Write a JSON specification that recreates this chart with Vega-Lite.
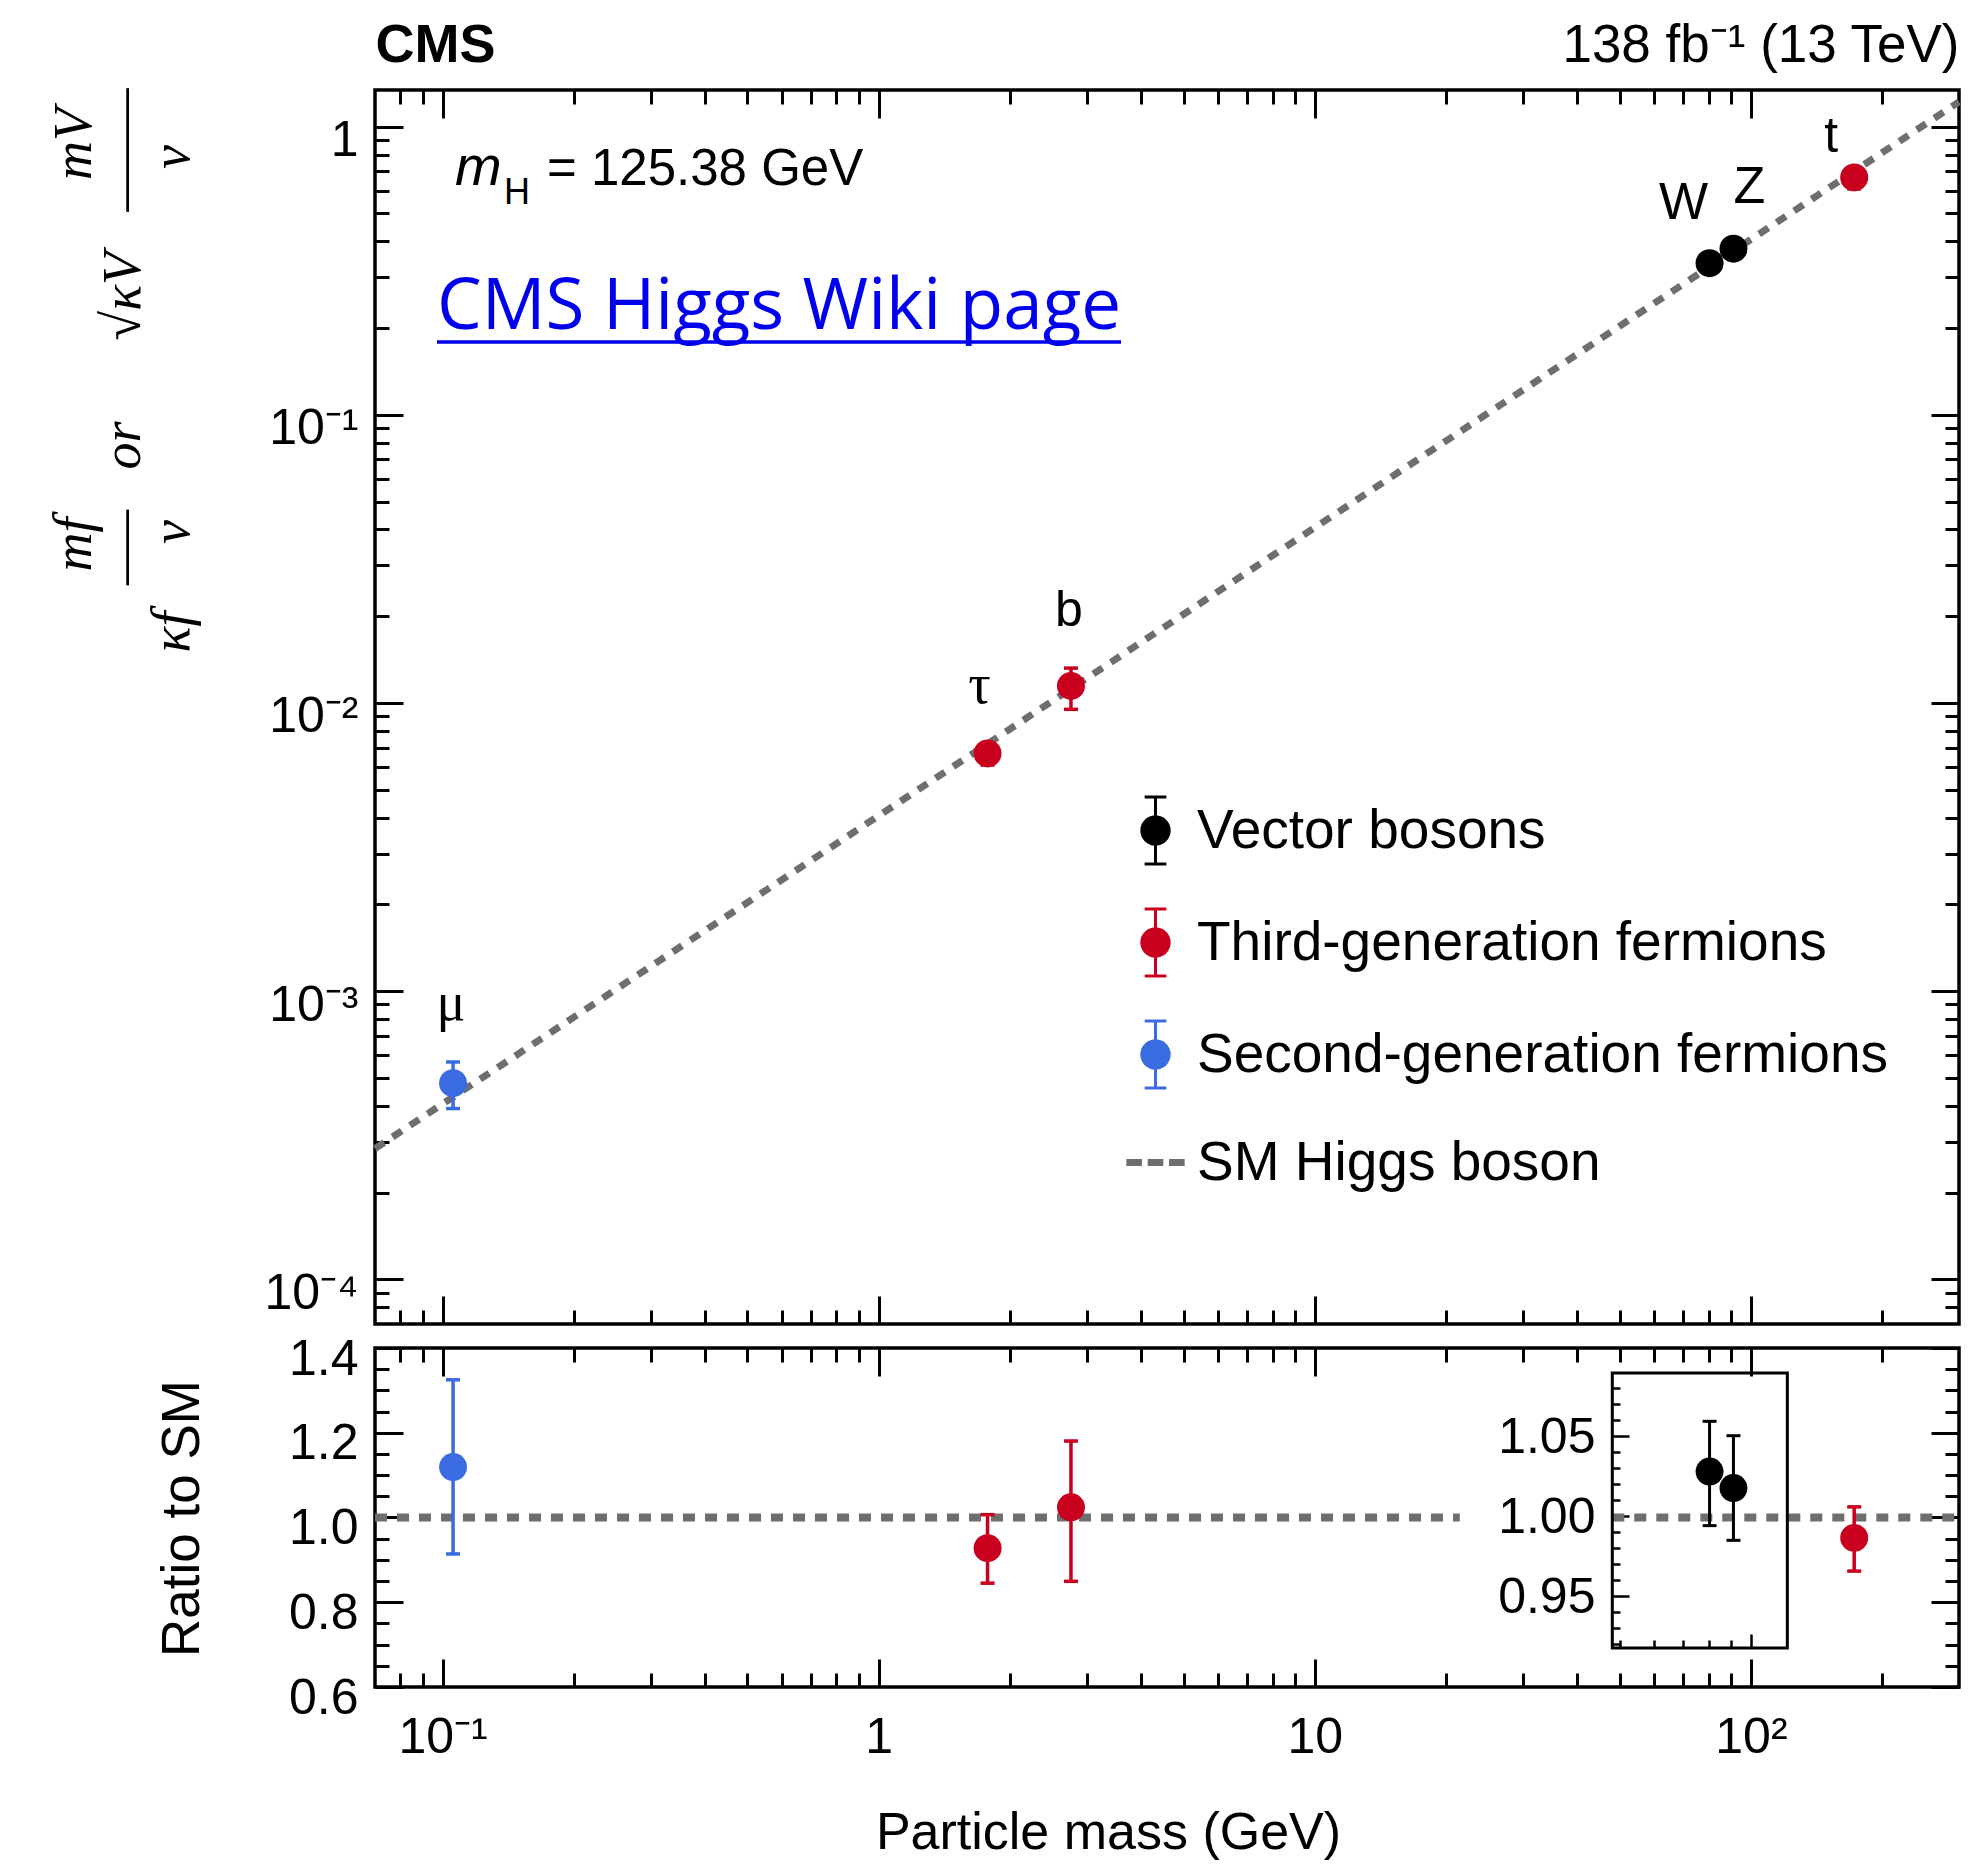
{
  "$schema": "https://vega.github.io/schema/vega-lite/v6.json",
  "background": "white",
  "padding": {"left": 45, "top": 16, "right": 10, "bottom": 10},
  "config": {
    "font": "Liberation Sans",
    "view": {"stroke": "black", "strokeWidth": 3.5},
    "axis": {"grid": false, "domain": false, "tickColor": "black", "tickWidth": 3, "labelColor": "black", "titleColor": "black", "labelFont": "Liberation Sans", "titleFont": "Liberation Sans", "labelFontSize": 50, "labelOverlap": false, "labelFlush": false, "titleFontWeight": "normal"}
  },
  "datasets": {
    "particles": [
      {"name": "mu", "label": "μ", "group": "Second-generation fermions", "mass": 0.1057, "y": 0.0004795, "ylo": 0.0003915, "yhi": 0.000568, "r": 1.119, "rlo": 0.914, "rhi": 1.325},
      {"name": "tau", "label": "τ", "group": "Third-generation fermions", "mass": 1.777, "y": 0.006683, "ylo": 0.006091, "yhi": 0.007253, "r": 0.9275, "rlo": 0.845, "rhi": 1.0067},
      {"name": "b", "label": "b", "group": "Third-generation fermions", "mass": 2.76, "y": 0.011457, "ylo": 0.009506, "yhi": 0.013216, "r": 1.024, "rlo": 0.8494, "rhi": 1.1805},
      {"name": "W", "label": "W", "group": "Vector bosons", "mass": 80.38, "y": 0.3359, "ylo": 0.3242, "yhi": 0.346, "r": 1.028, "rlo": 0.9942, "rhi": 1.0594},
      {"name": "Z", "label": "Z", "group": "Vector bosons", "mass": 91.19, "y": 0.377, "ylo": 0.3648, "yhi": 0.3896, "r": 1.0177, "rlo": 0.985, "rhi": 1.0504},
      {"name": "t", "label": "t", "group": "Third-generation fermions", "mass": 172.5, "y": 0.6663, "ylo": 0.6081, "yhi": 0.7167, "r": 0.952, "rlo": 0.8735, "rhi": 1.0251}
    ],
    "sm": [
      {"mass": 0.07, "y": 0.0002843, "group": "SM Higgs boson"},
      {"mass": 300, "y": 1.2184, "group": "SM Higgs boson"}
    ],
    "refline": [
      {"lo": 0.07, "hi": 21.5, "ratio": 1},
      {"lo": 48.1, "hi": 300, "ratio": 1}
    ]
  },
  "spacing": 24,
  "bounds": "flush",
  "resolve": {"scale": {"color": "independent"}},
  "vconcat": [
    {
      "width": 1584,
      "height": 1234,
      "resolve": {"axis": {"x": "independent", "y": "independent"}},
      "layer": [
        {
          "data": {"name": "sm"},
          "mark": {"type": "line", "strokeDash": [11, 10], "strokeWidth": 7},
          "encoding": {
            "x": {"field": "mass", "type": "quantitative", "scale": {"type": "log", "domain": [0.07, 300], "nice": false},
              "axis": {"orient": "bottom", "values": [0.08,0.09,0.1,0.2,0.3,0.4,0.5,0.6,0.7,0.8,0.9,1,2,3,4,5,6,7,8,9,10,20,30,40,50,60,70,80,90,100,200], "labels": false, "title": null,
                "tickSize": {"condition": {"test": "datum.value == 0.1 || datum.value == 1 || datum.value == 10 || datum.value == 100", "value": -28}, "value": -14}}},
            "y": {"field": "y", "type": "quantitative", "scale": {"type": "log", "domain": [0.00007, 1.34], "nice": false},
              "axis": {"orient": "left", "values": [0.00008,0.00009,0.0001,0.0002,0.0003,0.0004,0.0005,0.0006,0.0007,0.0008,0.0009,0.001,0.002,0.003,0.004,0.005,0.006,0.007,0.008,0.009,0.01,0.02,0.03,0.04,0.05,0.06,0.07,0.08,0.09,0.1,0.2,0.3,0.4,0.5,0.6,0.7,0.8,0.9,1],
                "tickSize": {"condition": {"test": "datum.value == 0.0001 || datum.value == 0.001 || datum.value == 0.01 || datum.value == 0.1 || datum.value == 1", "value": -28}, "value": -14},
                "labelExpr": "datum.value == 1 ? '1' : datum.value == 0.1 ? '10⁻¹' : datum.value == 0.01 ? '10⁻²' : datum.value == 0.001 ? '10⁻³' : datum.value == 0.0001 ? '10⁻⁴' : ''",
                "labelPadding": 45, "labelBaseline": "alphabetic", "labelOffset": 29, "labelFontSize": 50,
                "title": [
                  "\u200b\u00a0\u00a0\u00a0\u00a0\u00a0\u00a0mf\u00a0\u00a0\u00a0\u00a0\u00a0\u00a0\u00a0\u00a0\u00a0\u00a0\u00a0\u00a0\u00a0\u00a0\u00a0\u00a0\u00a0\u00a0\u00a0\u00a0\u00a0\u00a0\u00a0\u00a0\u00a0mV",
                  "\u200b\u00a0\u00a0\u00a0\u00a0\u00a0—–\u00a0\u00a0\u00a0or\u00a0\u00a0\u00a0\u00a0\u00a0\u00a0√κV\u00a0\u00a0\u00a0——–",
                  "κf\u00a0\u00a0\u00a0\u00a0\u00a0v\u00a0\u00a0\u00a0\u00a0\u00a0\u00a0\u00a0\u00a0\u00a0\u00a0\u00a0\u00a0\u00a0\u00a0\u00a0\u00a0\u00a0\u00a0\u00a0\u00a0\u00a0\u00a0\u00a0\u00a0\u00a0\u00a0v"
                ],
                "titleFont": "Liberation Serif", "titleFontStyle": "italic", "titleFontSize": 54, "titleLineHeight": 49,
                "titleAngle": 270, "titleAlign": "left", "titleBaseline": "alphabetic", "titleX": -285, "titleY": 562}},
            "color": {"field": "group", "type": "nominal", "scale": {"domain": ["Vector bosons", "Third-generation fermions", "Second-generation fermions", "SM Higgs boson"], "range": ["#000000", "#c8001e", "#3b6be0", "#6e6e6e"]},
              "legend": {"orient": "none", "legendX": 744, "legendY": 704, "title": null, "padding": 0, "symbolSize": 4900, "symbolStrokeWidth": 3, "symbolType": "circle",
                "labelFontSize": 55, "labelFont": "Liberation Sans", "labelColor": "black", "labelOffset": 5, "labelLimit": 2000, "rowPadding": 31, "direction": "vertical",
                "encoding": {"symbols": {
                  "shape": {"value": {"expr": "datum.value === 'SM Higgs boson' ? 'M-0.79,-0.06L-0.43,-0.06L-0.43,0.06L-0.79,0.06ZM-0.18,-0.06L0.18,-0.06L0.18,0.06L-0.18,0.06ZM0.43,-0.06L0.79,-0.06L0.79,0.06L0.43,0.06Z' : 'M0,-0.96L0,0.96M-0.31,-0.96L0.31,-0.96M-0.31,0.96L0.31,0.96M-0.39,0A0.39,0.39,0,1,0,0.39,0A0.39,0.39,0,1,0,-0.39,0Z'"}},
                  "fill": {"value": {"expr": "datum.value === 'Vector bosons' ? '#000000' : datum.value === 'Third-generation fermions' ? '#c8001e' : datum.value === 'Second-generation fermions' ? '#3b6be0' : '#6e6e6e'"}},
                  "stroke": {"value": {"expr": "datum.value === 'Vector bosons' ? '#000000' : datum.value === 'Third-generation fermions' ? '#c8001e' : datum.value === 'Second-generation fermions' ? '#3b6be0' : '#6e6e6e'"}},
                  "strokeWidth": {"value": 3},
                  "strokeDash": {"value": [1, 0]},
                  "opacity": {"value": 1},
                  "fillOpacity": {"value": 1},
                  "strokeOpacity": {"value": 1},
                  "size": {"value": 4900}
                }}}}
          }
        },
        {
          "data": {"name": "particles"},
          "mark": {"type": "rule", "strokeWidth": 3.5},
          "encoding": {
            "x": {"field": "mass", "type": "quantitative", "scale": {"type": "log", "domain": [0.07, 300], "nice": false},
              "axis": {"orient": "top", "values": [0.08,0.09,0.1,0.2,0.3,0.4,0.5,0.6,0.7,0.8,0.9,1,2,3,4,5,6,7,8,9,10,20,30,40,50,60,70,80,90,100,200], "labels": false,
                "tickSize": {"condition": {"test": "datum.value == 0.1 || datum.value == 1 || datum.value == 10 || datum.value == 100", "value": -28}, "value": -14},
                "title": "138 fb⁻¹ (13 TeV)", "titleFontSize": 53, "titleX": 1584, "titleY": -29, "titleAlign": "right", "titleBaseline": "alphabetic", "titleAngle": 0}},
            "y": {"field": "ylo", "type": "quantitative", "scale": {"type": "log", "domain": [0.00007, 1.34], "nice": false},
              "axis": {"orient": "right", "values": [0.00008,0.00009,0.0001,0.0002,0.0003,0.0004,0.0005,0.0006,0.0007,0.0008,0.0009,0.001,0.002,0.003,0.004,0.005,0.006,0.007,0.008,0.009,0.01,0.02,0.03,0.04,0.05,0.06,0.07,0.08,0.09,0.1,0.2,0.3,0.4,0.5,0.6,0.7,0.8,0.9,1], "labels": false, "title": null,
                "tickSize": {"condition": {"test": "datum.value == 0.0001 || datum.value == 0.001 || datum.value == 0.01 || datum.value == 0.1 || datum.value == 1", "value": -28}, "value": -14}}},
            "y2": {"field": "yhi"},
            "color": {"field": "group", "type": "nominal", "scale": {"domain": ["Vector bosons", "Third-generation fermions", "Second-generation fermions", "SM Higgs boson"], "range": ["#000000", "#c8001e", "#3b6be0", "#6e6e6e"]}}
          }
        },
        {
          "data": {"name": "particles"},
          "mark": {"type": "tick", "orient": "horizontal", "size": 14, "thickness": 3.5, "opacity": 1},
          "encoding": {
            "x": {"field": "mass", "type": "quantitative", "scale": {"type": "log", "domain": [0.07, 300], "nice": false},
              "axis": {"orient": "top", "ticks": false, "labels": false, "title": "CMS", "titleFontSize": 54, "titleFontWeight": "bold", "titleX": 0, "titleY": -29, "titleAlign": "left", "titleBaseline": "alphabetic", "titleAngle": 0}},
            "y": {"field": "ylo", "type": "quantitative", "scale": {"type": "log", "domain": [0.00007, 1.34], "nice": false}, "axis": null},
            "color": {"field": "group", "type": "nominal", "scale": {"domain": ["Vector bosons", "Third-generation fermions", "Second-generation fermions", "SM Higgs boson"], "range": ["#000000", "#c8001e", "#3b6be0", "#6e6e6e"]}}
          }
        },
        {
          "data": {"name": "particles"},
          "mark": {"type": "tick", "orient": "horizontal", "size": 14, "thickness": 3.5, "opacity": 1},
          "encoding": {
            "x": {"field": "mass", "type": "quantitative", "scale": {"type": "log", "domain": [0.07, 300], "nice": false}, "axis": null},
            "y": {"field": "yhi", "type": "quantitative", "scale": {"type": "log", "domain": [0.00007, 1.34], "nice": false}, "axis": null},
            "color": {"field": "group", "type": "nominal", "scale": {"domain": ["Vector bosons", "Third-generation fermions", "Second-generation fermions", "SM Higgs boson"], "range": ["#000000", "#c8001e", "#3b6be0", "#6e6e6e"]}}
          }
        },
        {
          "data": {"name": "particles"},
          "mark": {"type": "point", "filled": true, "size": 780, "opacity": 1},
          "encoding": {
            "x": {"field": "mass", "type": "quantitative", "scale": {"type": "log", "domain": [0.07, 300], "nice": false}, "axis": null},
            "y": {"field": "y", "type": "quantitative", "scale": {"type": "log", "domain": [0.00007, 1.34], "nice": false}, "axis": null},
            "color": {"field": "group", "type": "nominal", "scale": {"domain": ["Vector bosons", "Third-generation fermions", "Second-generation fermions", "SM Higgs boson"], "range": ["#000000", "#c8001e", "#3b6be0", "#6e6e6e"]}}
          }
        },
        {
          "data": {"name": "particles"},
          "transform": [{"filter": "datum.name == 'mu'"}],
          "mark": {"type": "text", "font": "Liberation Serif", "fontSize": 54, "dx": -2, "dy": -63, "baseline": "alphabetic", "align": "center", "color": "black"},
          "encoding": {
            "x": {"field": "mass", "type": "quantitative", "scale": {"type": "log", "domain": [0.07, 300], "nice": false}, "axis": null},
            "y": {"field": "y", "type": "quantitative", "scale": {"type": "log", "domain": [0.00007, 1.34], "nice": false}, "axis": null},
            "text": {"field": "label"}
          }
        },
        {
          "data": {"name": "particles"},
          "transform": [{"filter": "datum.name == 'tau'"}],
          "mark": {"type": "text", "font": "Liberation Serif", "fontSize": 56, "dx": -8, "dy": -50, "baseline": "alphabetic", "align": "center", "color": "black"},
          "encoding": {
            "x": {"field": "mass", "type": "quantitative", "scale": {"type": "log", "domain": [0.07, 300], "nice": false}, "axis": null},
            "y": {"field": "y", "type": "quantitative", "scale": {"type": "log", "domain": [0.00007, 1.34], "nice": false}, "axis": null},
            "text": {"field": "label"}
          }
        },
        {
          "data": {"name": "particles"},
          "transform": [{"filter": "datum.name == 'b'"}],
          "mark": {"type": "text", "fontSize": 50, "dx": -2, "dy": -60, "baseline": "alphabetic", "align": "center", "color": "black"},
          "encoding": {
            "x": {"field": "mass", "type": "quantitative", "scale": {"type": "log", "domain": [0.07, 300], "nice": false}, "axis": null},
            "y": {"field": "y", "type": "quantitative", "scale": {"type": "log", "domain": [0.00007, 1.34], "nice": false}, "axis": null},
            "text": {"field": "label"}
          }
        },
        {
          "data": {"name": "particles"},
          "transform": [{"filter": "datum.name == 'W'"}],
          "mark": {"type": "text", "fontSize": 52, "dx": -26, "dy": -44, "baseline": "alphabetic", "align": "center", "color": "black"},
          "encoding": {
            "x": {"field": "mass", "type": "quantitative", "scale": {"type": "log", "domain": [0.07, 300], "nice": false}, "axis": null},
            "y": {"field": "y", "type": "quantitative", "scale": {"type": "log", "domain": [0.00007, 1.34], "nice": false}, "axis": null},
            "text": {"field": "label"}
          }
        },
        {
          "data": {"name": "particles"},
          "transform": [{"filter": "datum.name == 'Z'"}],
          "mark": {"type": "text", "fontSize": 52, "dx": 16, "dy": -46, "baseline": "alphabetic", "align": "center", "color": "black"},
          "encoding": {
            "x": {"field": "mass", "type": "quantitative", "scale": {"type": "log", "domain": [0.07, 300], "nice": false}, "axis": null},
            "y": {"field": "y", "type": "quantitative", "scale": {"type": "log", "domain": [0.00007, 1.34], "nice": false}, "axis": null},
            "text": {"field": "label"}
          }
        },
        {
          "data": {"name": "particles"},
          "transform": [{"filter": "datum.name == 't'"}],
          "mark": {"type": "text", "fontSize": 50, "dx": -23, "dy": -25, "baseline": "alphabetic", "align": "center", "color": "black"},
          "encoding": {
            "x": {"field": "mass", "type": "quantitative", "scale": {"type": "log", "domain": [0.07, 300], "nice": false}, "axis": null},
            "y": {"field": "y", "type": "quantitative", "scale": {"type": "log", "domain": [0.00007, 1.34], "nice": false}, "axis": null},
            "text": {"field": "label"}
          }
        },
        {
          "data": {"values": [{}]},
          "mark": {"type": "text", "text": "m", "fontSize": 56, "fontStyle": "italic", "align": "left", "baseline": "alphabetic", "color": "black"},
          "encoding": {
            "x": {"datum": 0.1068, "type": "quantitative", "scale": {"type": "log", "domain": [0.07, 300], "nice": false}, "axis": null},
            "y": {"datum": 0.627, "type": "quantitative", "scale": {"type": "log", "domain": [0.00007, 1.34], "nice": false}, "axis": null}
          }
        },
        {
          "data": {"values": [{}]},
          "mark": {"type": "text", "text": "H", "fontSize": 36, "dx": 49, "dy": 19, "align": "left", "baseline": "alphabetic", "color": "black"},
          "encoding": {
            "x": {"datum": 0.1068, "type": "quantitative", "scale": {"type": "log", "domain": [0.07, 300], "nice": false}, "axis": null},
            "y": {"datum": 0.627, "type": "quantitative", "scale": {"type": "log", "domain": [0.00007, 1.34], "nice": false}, "axis": null}
          }
        },
        {
          "data": {"values": [{}]},
          "mark": {"type": "text", "text": "= 125.38 GeV", "fontSize": 51, "dx": 92, "align": "left", "baseline": "alphabetic", "color": "black"},
          "encoding": {
            "x": {"datum": 0.1068, "type": "quantitative", "scale": {"type": "log", "domain": [0.07, 300], "nice": false}, "axis": null},
            "y": {"datum": 0.627, "type": "quantitative", "scale": {"type": "log", "domain": [0.00007, 1.34], "nice": false}, "axis": null}
          }
        },
        {
          "data": {"values": [{}]},
          "mark": {"type": "text", "text": "CMS Higgs Wiki page", "font": "Open Sans", "fontSize": 71, "align": "left", "baseline": "alphabetic", "color": "#0000ee"},
          "encoding": {
            "x": {"datum": 0.0971, "type": "quantitative", "scale": {"type": "log", "domain": [0.07, 300], "nice": false}, "axis": null},
            "y": {"datum": 0.1985, "type": "quantitative", "scale": {"type": "log", "domain": [0.00007, 1.34], "nice": false}, "axis": null}
          }
        },
        {
          "data": {"values": [{}]},
          "mark": {"type": "rule", "color": "#0000ee", "strokeWidth": 3.5},
          "encoding": {
            "x": {"datum": 0.0971, "type": "quantitative", "scale": {"type": "log", "domain": [0.07, 300], "nice": false}, "axis": null},
            "x2": {"datum": 3.595},
            "y": {"datum": 0.179, "type": "quantitative", "scale": {"type": "log", "domain": [0.00007, 1.34], "nice": false}, "axis": null}
          }
        }
      ]
    },
    {
      "width": 1584,
      "height": 339,
      "resolve": {"scale": {"y": "independent"}, "axis": {"x": "independent", "y": "independent"}},
      "layer": [
        {
          "data": {"name": "refline"},
          "mark": {"type": "rule", "strokeDash": [12, 10], "strokeWidth": 8, "color": "#6e6e6e"},
          "encoding": {
            "x": {"field": "lo", "type": "quantitative", "scale": {"type": "log", "domain": [0.07, 300], "nice": false},
              "axis": {"orient": "bottom", "values": [0.08,0.09,0.1,0.2,0.3,0.4,0.5,0.6,0.7,0.8,0.9,1,2,3,4,5,6,7,8,9,10,20,30,40,50,60,70,80,90,100,200],
                "tickSize": {"condition": {"test": "datum.value == 0.1 || datum.value == 1 || datum.value == 10 || datum.value == 100", "value": -28}, "value": -14},
                "labelExpr": "datum.value == 0.1 ? '10⁻¹' : datum.value == 1 ? '1' : datum.value == 10 ? '10' : datum.value == 100 ? '10²' : ''",
                "labelBaseline": "alphabetic", "labelPadding": 93, "labelFontSize": 50,
                "title": "Particle mass (GeV)", "titleFontSize": 52, "titleX": 733, "titleY": 161, "titleAlign": "center", "titleBaseline": "alphabetic", "titleAngle": 0}},
            "x2": {"field": "hi"},
            "y": {"field": "ratio", "type": "quantitative", "scale": {"domain": [0.6, 1.4], "nice": false, "zero": false},
              "axis": {"orient": "left", "values": [0.6,0.65,0.7,0.75,0.8,0.85,0.9,0.95,1,1.05,1.1,1.15,1.2,1.25,1.3,1.35,1.4],
                "tickSize": {"condition": {"test": "datum.value == 0.6 || datum.value == 0.8 || datum.value == 1 || datum.value == 1.2 || datum.value == 1.4", "value": -28}, "value": -14},
                "labelExpr": "datum.value == 0.6 ? '0.6' : datum.value == 0.8 ? '0.8' : datum.value == 1 ? '1.0' : datum.value == 1.2 ? '1.2' : datum.value == 1.4 ? '1.4' : ''",
                "labelPadding": 45, "labelBaseline": "alphabetic", "labelOffset": 26, "labelFontSize": 50,
                "title": "Ratio to SM", "titleFontSize": 53, "titleX": -177, "titleY": 170, "titleAlign": "center", "titleBaseline": "alphabetic", "titleAngle": 270}}
          }
        },
        {
          "data": {"name": "particles"},
          "transform": [{"filter": "datum.group != 'Vector bosons'"}],
          "mark": {"type": "rule", "strokeWidth": 3.5},
          "encoding": {
            "x": {"field": "mass", "type": "quantitative", "scale": {"type": "log", "domain": [0.07, 300], "nice": false},
              "axis": {"orient": "top", "values": [0.08,0.09,0.1,0.2,0.3,0.4,0.5,0.6,0.7,0.8,0.9,1,2,3,4,5,6,7,8,9,10,20,30,40,50,60,70,80,90,100,200], "labels": false, "title": null,
                "tickSize": {"condition": {"test": "datum.value == 0.1 || datum.value == 1 || datum.value == 10 || datum.value == 100", "value": -28}, "value": -14}}},
            "y": {"field": "rlo", "type": "quantitative", "scale": {"domain": [0.6, 1.4], "nice": false, "zero": false},
              "axis": {"orient": "right", "values": [0.6,0.65,0.7,0.75,0.8,0.85,0.9,0.95,1,1.05,1.1,1.15,1.2,1.25,1.3,1.35,1.4], "labels": false, "title": null,
                "tickSize": {"condition": {"test": "datum.value == 0.6 || datum.value == 0.8 || datum.value == 1 || datum.value == 1.2 || datum.value == 1.4", "value": -28}, "value": -14}}},
            "y2": {"field": "rhi"},
            "color": {"field": "group", "type": "nominal", "scale": {"domain": ["Vector bosons", "Third-generation fermions", "Second-generation fermions", "SM Higgs boson"], "range": ["#000000", "#c8001e", "#3b6be0", "#6e6e6e"]}, "legend": null}
          }
        },
        {
          "data": {"name": "particles"},
          "transform": [{"filter": "datum.group != 'Vector bosons'"}],
          "mark": {"type": "tick", "orient": "horizontal", "size": 14, "thickness": 3.5, "opacity": 1},
          "encoding": {
            "x": {"field": "mass", "type": "quantitative", "scale": {"type": "log", "domain": [0.07, 300], "nice": false}, "axis": null},
            "y": {"field": "rlo", "type": "quantitative", "scale": {"domain": [0.6, 1.4], "nice": false, "zero": false}, "axis": null},
            "color": {"field": "group", "type": "nominal", "scale": {"domain": ["Vector bosons", "Third-generation fermions", "Second-generation fermions", "SM Higgs boson"], "range": ["#000000", "#c8001e", "#3b6be0", "#6e6e6e"]}, "legend": null}
          }
        },
        {
          "data": {"name": "particles"},
          "transform": [{"filter": "datum.group != 'Vector bosons'"}],
          "mark": {"type": "tick", "orient": "horizontal", "size": 14, "thickness": 3.5, "opacity": 1},
          "encoding": {
            "x": {"field": "mass", "type": "quantitative", "scale": {"type": "log", "domain": [0.07, 300], "nice": false}, "axis": null},
            "y": {"field": "rhi", "type": "quantitative", "scale": {"domain": [0.6, 1.4], "nice": false, "zero": false}, "axis": null},
            "color": {"field": "group", "type": "nominal", "scale": {"domain": ["Vector bosons", "Third-generation fermions", "Second-generation fermions", "SM Higgs boson"], "range": ["#000000", "#c8001e", "#3b6be0", "#6e6e6e"]}, "legend": null}
          }
        },
        {
          "data": {"name": "particles"},
          "transform": [{"filter": "datum.group != 'Vector bosons'"}],
          "mark": {"type": "point", "filled": true, "size": 780, "opacity": 1},
          "encoding": {
            "x": {"field": "mass", "type": "quantitative", "scale": {"type": "log", "domain": [0.07, 300], "nice": false}, "axis": null},
            "y": {"field": "r", "type": "quantitative", "scale": {"domain": [0.6, 1.4], "nice": false, "zero": false}, "axis": null},
            "color": {"field": "group", "type": "nominal", "scale": {"domain": ["Vector bosons", "Third-generation fermions", "Second-generation fermions", "SM Higgs boson"], "range": ["#000000", "#c8001e", "#3b6be0", "#6e6e6e"]}, "legend": null}
          }
        },
        {
          "data": {"values": [{}]},
          "mark": {"type": "rect", "fill": "white", "fillOpacity": 0, "stroke": "black", "strokeWidth": 3},
          "encoding": {
            "x": {"datum": 48.1, "type": "quantitative", "scale": {"type": "log", "domain": [0.07, 300], "nice": false},
              "axis": {"orient": "bottom", "offset": -39, "values": [50,60,70,80,90,100], "labels": false, "title": null, "tickWidth": 2.5,
                "tickSize": {"condition": {"test": "datum.value == 100", "value": -14}, "value": -8}}},
            "x2": {"datum": 121.2},
            "y": {"datum": 0.9177, "type": "quantitative", "scale": {"domain": [0.9177, 1.0896], "range": [300, 25], "nice": false, "zero": false},
              "axis": {"orient": "left", "offset": -1237, "values": [0.92,0.93,0.94,0.95,0.96,0.97,0.98,0.99,1,1.01,1.02,1.03,1.04,1.05,1.06,1.07,1.08],
                "tickSize": {"condition": {"test": "datum.value == 0.95 || datum.value == 1 || datum.value == 1.05", "value": -17}, "value": -8},
                "labelExpr": "datum.value == 0.95 ? '0.95' : datum.value == 1 ? '1.00' : datum.value == 1.05 ? '1.05' : ''",
                "labelPadding": 34, "labelBaseline": "alphabetic", "labelOffset": 16, "labelFontSize": 50, "title": null, "tickWidth": 2.5}},
            "y2": {"datum": 1.0896}
          }
        },
        {
          "data": {"name": "particles"},
          "transform": [{"filter": "datum.group == 'Vector bosons'"}],
          "mark": {"type": "rule", "strokeWidth": 3},
          "encoding": {
            "x": {"field": "mass", "type": "quantitative", "scale": {"type": "log", "domain": [0.07, 300], "nice": false}, "axis": null},
            "y": {"field": "rlo", "type": "quantitative", "scale": {"domain": [0.9177, 1.0896], "range": [300, 25], "nice": false, "zero": false}, "axis": null},
            "y2": {"field": "rhi"},
            "color": {"field": "group", "type": "nominal", "scale": {"domain": ["Vector bosons", "Third-generation fermions", "Second-generation fermions", "SM Higgs boson"], "range": ["#000000", "#c8001e", "#3b6be0", "#6e6e6e"]}, "legend": null}
          }
        },
        {
          "data": {"name": "particles"},
          "transform": [{"filter": "datum.group == 'Vector bosons'"}],
          "mark": {"type": "tick", "orient": "horizontal", "size": 14, "thickness": 3, "opacity": 1},
          "encoding": {
            "x": {"field": "mass", "type": "quantitative", "scale": {"type": "log", "domain": [0.07, 300], "nice": false}, "axis": null},
            "y": {"field": "rlo", "type": "quantitative", "scale": {"domain": [0.9177, 1.0896], "range": [300, 25], "nice": false, "zero": false}, "axis": null},
            "color": {"field": "group", "type": "nominal", "scale": {"domain": ["Vector bosons", "Third-generation fermions", "Second-generation fermions", "SM Higgs boson"], "range": ["#000000", "#c8001e", "#3b6be0", "#6e6e6e"]}, "legend": null}
          }
        },
        {
          "data": {"name": "particles"},
          "transform": [{"filter": "datum.group == 'Vector bosons'"}],
          "mark": {"type": "tick", "orient": "horizontal", "size": 14, "thickness": 3, "opacity": 1},
          "encoding": {
            "x": {"field": "mass", "type": "quantitative", "scale": {"type": "log", "domain": [0.07, 300], "nice": false}, "axis": null},
            "y": {"field": "rhi", "type": "quantitative", "scale": {"domain": [0.9177, 1.0896], "range": [300, 25], "nice": false, "zero": false}, "axis": null},
            "color": {"field": "group", "type": "nominal", "scale": {"domain": ["Vector bosons", "Third-generation fermions", "Second-generation fermions", "SM Higgs boson"], "range": ["#000000", "#c8001e", "#3b6be0", "#6e6e6e"]}, "legend": null}
          }
        },
        {
          "data": {"name": "particles"},
          "transform": [{"filter": "datum.group == 'Vector bosons'"}],
          "mark": {"type": "point", "filled": true, "size": 780, "opacity": 1},
          "encoding": {
            "x": {"field": "mass", "type": "quantitative", "scale": {"type": "log", "domain": [0.07, 300], "nice": false}, "axis": null},
            "y": {"field": "r", "type": "quantitative", "scale": {"domain": [0.9177, 1.0896], "range": [300, 25], "nice": false, "zero": false}, "axis": null},
            "color": {"field": "group", "type": "nominal", "scale": {"domain": ["Vector bosons", "Third-generation fermions", "Second-generation fermions", "SM Higgs boson"], "range": ["#000000", "#c8001e", "#3b6be0", "#6e6e6e"]}, "legend": null}
          }
        }
      ]
    }
  ]
}
